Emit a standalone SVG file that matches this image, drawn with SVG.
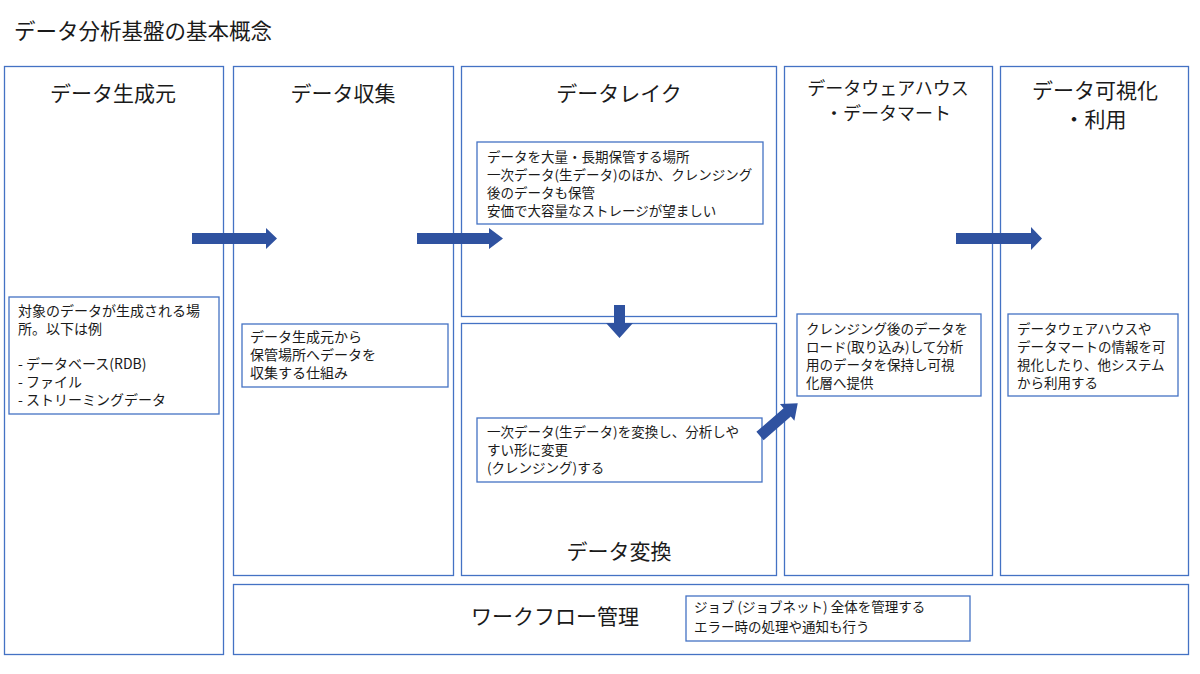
<svg xmlns="http://www.w3.org/2000/svg" width="1200" height="674" viewBox="0 0 1200 674">
<style>
text{font-family:"Noto Sans CJK JP","Noto Sans",sans-serif;fill:#1a1a1a}
.col{fill:#fff;stroke:#4472c4;stroke-width:1.3}
.box{fill:#fff;stroke:#4472c4;stroke-width:1.3}
.h{font-size:21px;text-anchor:middle}
.h2{font-size:18px;text-anchor:middle}
.t{font-size:13.5px}
.t14{font-size:14px}
.arr{fill:#2f52a0}
</style>
<rect width="1200" height="674" fill="#fff"/>
<text x="14" y="39" style="font-size:21.5px">データ分析基盤の基本概念</text>

<g id="source">
<rect class="col" x="4.5" y="66.5" width="219" height="588"/>
<text class="h" x="113" y="101">データ生成元</text>
<rect class="box" x="9" y="297" width="210" height="117"/>
<text class="t14" x="18" y="316">対象のデータが生成される場</text>
<text class="t14" x="18" y="334">所。以下は例</text>
<text class="t14" x="18" y="369">- データベース(RDB)</text>
<text class="t14" x="18" y="387">- ファイル</text>
<text class="t14" x="18" y="405">- ストリーミングデータ</text>
</g>

<g id="collect">
<rect class="col" x="233.5" y="66.5" width="220" height="509"/>
<text class="h" x="343" y="101">データ収集</text>
<rect class="box" x="242" y="324" width="206" height="63"/>
<text class="t14" x="250" y="342">データ生成元から</text>
<text class="t14" x="250" y="360">保管場所へデータを</text>
<text class="t14" x="250" y="378">収集する仕組み</text>
</g>

<g id="lake">
<rect class="col" x="461.5" y="66.5" width="315" height="250"/>
<text class="h" x="619" y="101">データレイク</text>
<rect class="box" x="477" y="142" width="286" height="82"/>
<text class="t" x="487" y="162">データを大量・長期保管する場所</text>
<text class="t" x="487" y="180">一次データ(生データ)のほか、クレンジング</text>
<text class="t" x="487" y="198">後のデータも保管</text>
<text class="t" x="487" y="216">安価で大容量なストレージが望ましい</text>
</g>

<g id="transform">
<rect class="col" x="461.5" y="323.5" width="315" height="252"/>
<rect class="box" x="477" y="418" width="285" height="64"/>
<text class="t" x="487" y="437">一次データ(生データ)を変換し、分析しや</text>
<text class="t" x="487" y="455">すい形に変更</text>
<text class="t" x="487" y="473">(クレンジング)する</text>
<text class="h" x="619" y="559">データ変換</text>
</g>

<g id="dwh">
<rect class="col" x="784.5" y="66.5" width="208" height="509"/>
<text class="h2" x="888" y="95">データウェアハウス</text>
<text class="h2" x="888" y="120">・データマート</text>
<rect class="box" x="797" y="314" width="184" height="82"/>
<text class="t" x="806" y="334">クレンジング後のデータを</text>
<text class="t" x="806" y="352">ロード(取り込み)して分析</text>
<text class="t" x="806" y="370">用のデータを保持し可視</text>
<text class="t" x="806" y="388">化層へ提供</text>
</g>

<g id="visual">
<rect class="col" x="1000.5" y="66.5" width="188" height="509"/>
<text class="h" x="1095" y="98">データ可視化</text>
<text class="h" x="1095" y="127">・利用</text>
<rect class="box" x="1008" y="314" width="170" height="82"/>
<text class="t" x="1017" y="334">データウェアハウスや</text>
<text class="t" x="1017" y="352">データマートの情報を可</text>
<text class="t" x="1017" y="370">視化したり、他システム</text>
<text class="t" x="1017" y="388">から利用する</text>
</g>

<g id="workflow">
<rect class="col" x="233.5" y="584.5" width="955" height="70"/>
<text class="h" x="555" y="624">ワークフロー管理</text>
<rect class="box" x="686" y="596" width="284" height="45"/>
<text class="t" x="694" y="612">ジョブ (ジョブネット) 全体を管理する</text>
<text class="t" x="694" y="632">エラー時の処理や通知も行う</text>
</g>

<g id="connectors">
<polygon class="arr" points="192,233 266,233 266,228 277,238.5 266,249 266,244 192,244"/>
<polygon class="arr" points="417,233 489,233 489,228 503,238.5 489,249 489,244 417,244"/>
<polygon class="arr" points="614,305 625,305 625,323 633,323 619.5,338 606,323 614,323"/>
<polygon class="arr" points="956,233 1031,233 1031,227 1042,238.5 1031,250 1031,244 956,244"/>
<g transform="translate(760,436) rotate(-41)">
<polygon class="arr" points="0,-5.5 36,-5.5 36,-11 50,0 36,11 36,5.5 0,5.5"/>
</g>
</g>
</svg>
